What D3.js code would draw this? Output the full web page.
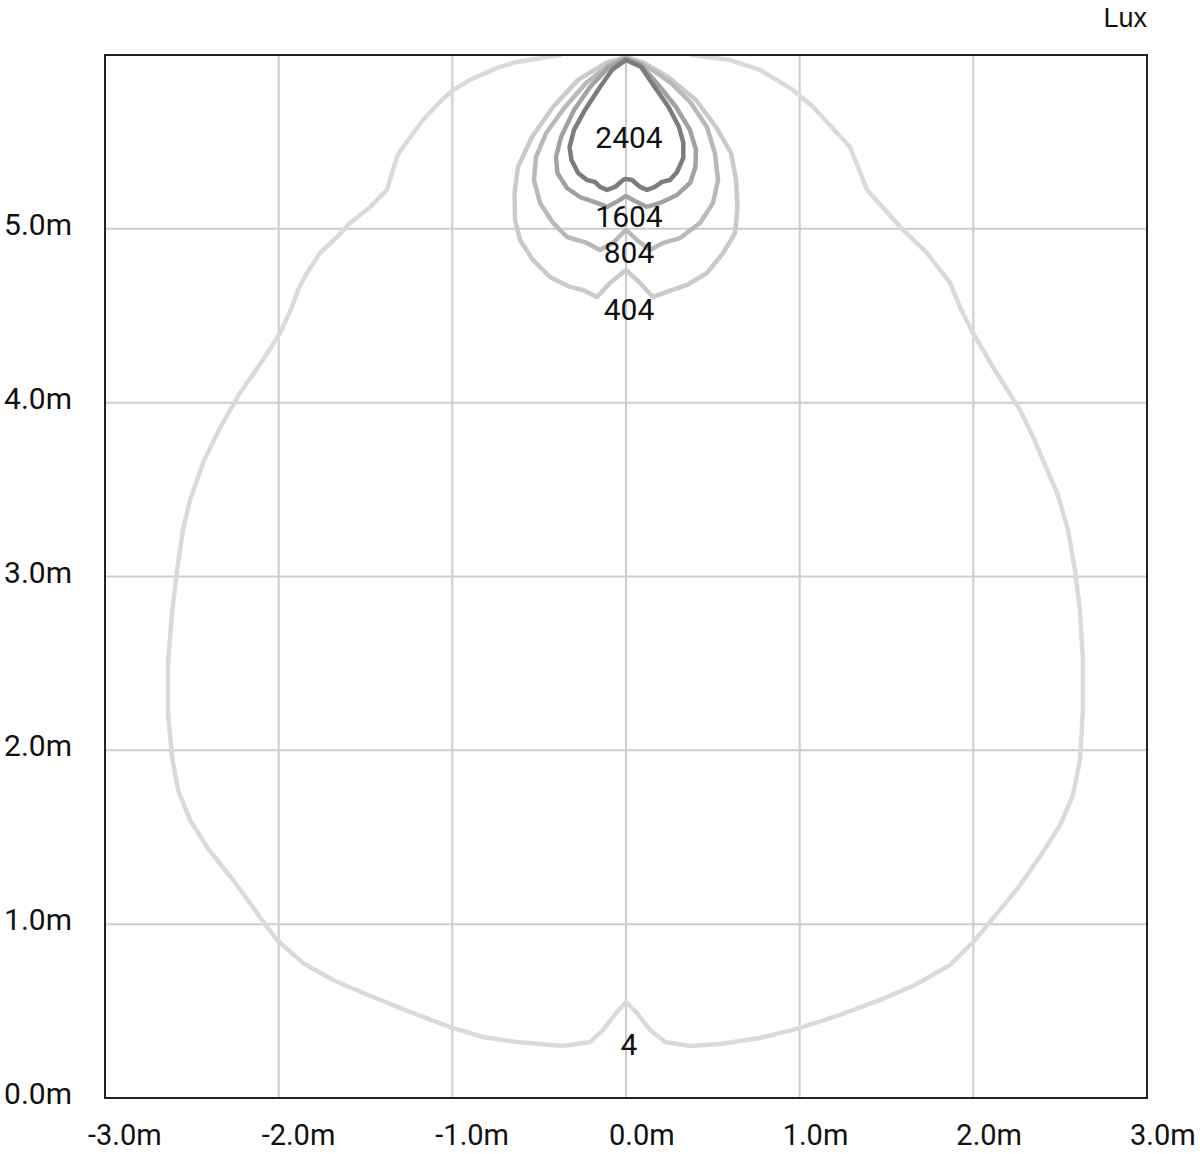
<!DOCTYPE html>
<html>
<head>
<meta charset="utf-8">
<script src="https://cdn.jsdelivr.net/npm/d3@7"></script>
<style>
  html, body { margin: 0; padding: 0; background: #fff; }
  svg { display: block; }
</style>
</head>
<body>
<svg id="chart" width="1200" height="1153"></svg>
<script>
// ---- data (metres) ----
const xTicks = [-3, -2, -1, 0, 1, 2, 3];
const yTicks = [0, 1, 2, 3, 4, 5];
const xTickLabels = ["-3.0m", "-2.0m", "-1.0m", "0.0m", "1.0m", "2.0m", "3.0m"];
const yTickLabels = ["0.0m", "1.0m", "2.0m", "3.0m", "4.0m", "5.0m"];
const unitLabel = "Lux";

const levels = [4, 404, 804, 1604, 2404];
const levelLabels = ["4", "404", "804", "1604", "2404"];
// label baseline positions (metres)
const labelPos = [[0, 0.247], [0, 4.476], [0, 4.804], [0, 5.011], [0, 5.465]];

const iso4 = [
  [-0.38, 6.0], [-0.628, 5.960], [-0.743, 5.926], [-0.898, 5.857], [-0.996, 5.799],
  [-1.071, 5.730], [-1.169, 5.626], [-1.284, 5.471], [-1.319, 5.414], [-1.376, 5.224],
  [-1.474, 5.126], [-1.589, 5.034], [-1.664, 4.953], [-1.762, 4.861], [-1.837, 4.746],
  [-1.889, 4.648], [-1.923, 4.551], [-1.992, 4.401], [-2.090, 4.246], [-2.223, 4.056],
  [-2.344, 3.843], [-2.436, 3.653], [-2.510, 3.440], [-2.551, 3.268], [-2.585, 3.038],
  [-2.614, 2.790], [-2.637, 2.503], [-2.637, 2.215], [-2.614, 1.962], [-2.580, 1.772],
  [-2.510, 1.599], [-2.413, 1.444], [-2.263, 1.254], [-2.165, 1.122], [-2.067, 0.984],
  [-2.010, 0.909], [-1.860, 0.777], [-1.687, 0.679], [-1.457, 0.581], [-1.244, 0.495],
  [-1.013, 0.408], [-0.823, 0.351], [-0.628, 0.322], [-0.363, 0.299], [-0.207, 0.322],
  [-0.132, 0.391], [-0.052, 0.495], [0.0, 0.552],
  [0.058, 0.495], [0.138, 0.391], [0.225, 0.322], [0.369, 0.299], [0.541, 0.311],
  [0.772, 0.345], [1.002, 0.403], [1.232, 0.478], [1.463, 0.564], [1.664, 0.650],
  [1.866, 0.765], [2.010, 0.909], [2.153, 1.081], [2.269, 1.225], [2.390, 1.398],
  [2.500, 1.570], [2.574, 1.743], [2.614, 1.945], [2.631, 2.232], [2.631, 2.520],
  [2.614, 2.807], [2.585, 3.038], [2.545, 3.268], [2.487, 3.469], [2.413, 3.642],
  [2.344, 3.803], [2.269, 3.958], [2.113, 4.205], [1.998, 4.401], [1.923, 4.551],
  [1.866, 4.689], [1.733, 4.861], [1.595, 4.994], [1.388, 5.224], [1.290, 5.471],
  [1.077, 5.701], [0.962, 5.799], [0.772, 5.914], [0.599, 5.971], [0.38, 6.0]
];

const iso404 = [
  [0, 5.989], [-0.115, 5.954], [-0.276, 5.857], [-0.420, 5.701], [-0.541, 5.528],
  [-0.622, 5.356], [-0.642, 5.206], [-0.639, 5.051], [-0.610, 4.936], [-0.536, 4.821],
  [-0.438, 4.723], [-0.322, 4.666], [-0.248, 4.648], [-0.167, 4.608], [-0.092, 4.689],
  [0, 4.763], [0.081, 4.689], [0.155, 4.608], [0.236, 4.637], [0.351, 4.677],
  [0.466, 4.746], [0.559, 4.861], [0.628, 4.976], [0.642, 5.126], [0.634, 5.281],
  [0.605, 5.436], [0.518, 5.586], [0.403, 5.741], [0.242, 5.874], [0.104, 5.954], [0, 5.989]
];

const iso804 = [
  [0, 5.983], [-0.098, 5.943], [-0.230, 5.839], [-0.351, 5.701], [-0.460, 5.551],
  [-0.518, 5.414], [-0.530, 5.281], [-0.495, 5.149], [-0.420, 5.034], [-0.340, 4.953],
  [-0.225, 4.919], [-0.150, 4.878], [-0.075, 4.919], [0, 4.994], [0.063, 4.936],
  [0.138, 4.878], [0.213, 4.919], [0.311, 4.947], [0.426, 5.034], [0.501, 5.149],
  [0.530, 5.281], [0.512, 5.436], [0.466, 5.586], [0.374, 5.724], [0.259, 5.839],
  [0.127, 5.931], [0, 5.983]
];

const iso1604 = [
  [0, 5.977], [-0.098, 5.931], [-0.207, 5.816], [-0.299, 5.684], [-0.374, 5.528],
  [-0.403, 5.414], [-0.395, 5.321], [-0.340, 5.235], [-0.265, 5.183], [-0.167, 5.149],
  [-0.109, 5.126], [-0.035, 5.166], [0, 5.189], [0.040, 5.166], [0.121, 5.126],
  [0.196, 5.149], [0.294, 5.195], [0.369, 5.264], [0.400, 5.356], [0.403, 5.454],
  [0.368, 5.569], [0.288, 5.701], [0.196, 5.816], [0.087, 5.943], [0, 5.977]
];

const iso2404 = [
  [0, 5.972], [-0.081, 5.914], [-0.161, 5.799], [-0.236, 5.684], [-0.299, 5.569],
  [-0.325, 5.471], [-0.314, 5.396], [-0.276, 5.321], [-0.225, 5.281], [-0.179, 5.270],
  [-0.150, 5.241], [-0.109, 5.224], [-0.063, 5.241], [-0.017, 5.281], [0, 5.287],
  [0.035, 5.281], [0.081, 5.241], [0.121, 5.224], [0.167, 5.241], [0.207, 5.270],
  [0.253, 5.281], [0.294, 5.327], [0.330, 5.408], [0.330, 5.494], [0.305, 5.586],
  [0.245, 5.701], [0.165, 5.816], [0.087, 5.931], [0, 5.972]
];

const isolines = [iso4, iso404, iso804, iso1604, iso2404];
const lineColors = ["#dadada", "#cacaca", "#b9b9b9", "#a2a2a2", "#7c7c7c"];

// ---- layout ----
const svg = d3.select("#chart");
const plotL = 105, plotR = 1147, plotT = 55, plotB = 1098;
const x = d3.scaleLinear().domain([-3, 3]).range([plotL, plotR]);
const y = d3.scaleLinear().domain([0, 6]).range([plotB, plotT]);
const font = "Roboto, 'DejaVu Sans Condensed', sans-serif";

// grid
const grid = svg.append("g");
grid.selectAll("line.vx").data(xTicks.slice(1, -1)).enter().append("line")
  .attr("x1", d => x(d)).attr("x2", d => x(d)).attr("y1", plotT).attr("y2", plotB)
  .attr("stroke", "#cccccc").attr("stroke-width", 2);
grid.selectAll("line.hy").data(yTicks.slice(1)).enter().append("line")
  .attr("x1", plotL).attr("x2", plotR).attr("y1", d => y(d)).attr("y2", d => y(d))
  .attr("stroke", "#cccccc").attr("stroke-width", 2);

// clip
svg.append("clipPath").attr("id", "plotclip").append("rect")
  .attr("x", plotL).attr("y", plotT).attr("width", plotR - plotL).attr("height", plotB - plotT);

const line = d3.line().x(d => x(d[0])).y(d => y(d[1])).curve(d3.curveLinear);
const cg = svg.append("g").attr("clip-path", "url(#plotclip)");
isolines.forEach((pts, i) => {
  cg.append("path").attr("d", line(pts))
    .attr("fill", "none").attr("stroke", lineColors[i])
    .attr("stroke-width", 4.5).attr("stroke-linejoin", "round").attr("stroke-linecap", "round");
});

// contour labels
levelLabels.forEach((t, i) => {
  svg.append("text")
    .attr("x", x(labelPos[i][0]) + 3).attr("y", y(labelPos[i][1]))
    .attr("text-anchor", "middle")
    .attr("font-family", font).attr("font-size", 30).attr("fill", "#111")
    .text(t);
});

// frame
svg.append("rect").attr("x", plotL).attr("y", plotT)
  .attr("width", plotR - plotL).attr("height", plotB - plotT)
  .attr("fill", "none").attr("stroke", "#222").attr("stroke-width", 2);

// x tick labels
svg.append("g").selectAll("text").data(xTicks).enter().append("text")
  .attr("x", d => x(d) - 17).attr("y", 1145)
  .attr("text-anchor", "start")
  .attr("font-family", font).attr("font-size", 29).attr("fill", "#111")
  .text((d, i) => xTickLabels[i]);

// y tick labels
svg.append("g").selectAll("text").data(yTicks).enter().append("text")
  .attr("x", 72).attr("y", d => y(d) + 6)
  .attr("text-anchor", "end")
  .attr("font-family", font).attr("font-size", 30).attr("fill", "#111")
  .text((d, i) => yTickLabels[i]);

// unit label
svg.append("text").attr("x", 1147).attr("y", 27)
  .attr("text-anchor", "end")
  .attr("font-family", "'Liberation Sans', Arial, sans-serif").attr("font-size", 27).attr("fill", "#111")
  .text(unitLabel);
</script>
</body>
</html>
